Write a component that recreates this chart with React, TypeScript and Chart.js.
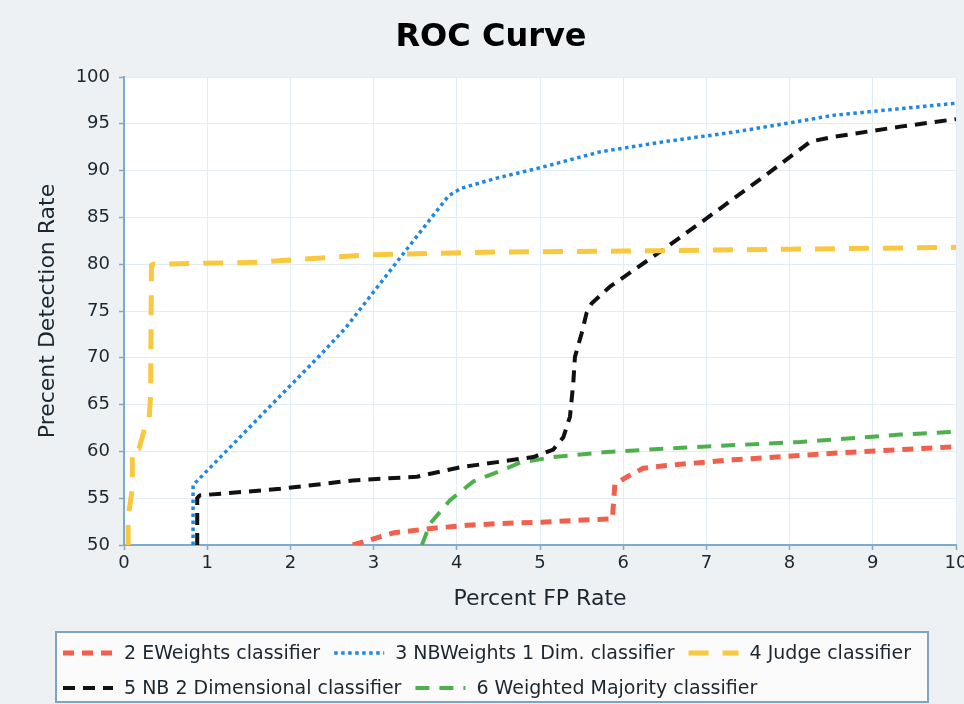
import React, { useEffect, useRef } from 'react';
import { Chart, registerables } from 'chart.js';

Chart.register(...registerables);

const FONT = "'DejaVu Sans', 'Liberation Sans', sans-serif";
const TEXT_COLOR = '#1b2630';
const AXIS_COLOR = '#7eaacb';
const GRID_COLOR = '#e1ecf4';

// X axis: false positive rate (%), Y axis: detection rate (%)
const xTicks = { min: 0, max: 10, step: 1 };
const yTicks = { min: 50, max: 100, step: 5 };

const seriesNames = [
  '2 EWeights classifier',
  '3 NBWeights 1 Dim. classifier',
  '4 Judge classifier',
  '5 NB 2 Dimensional classifier',
  '6 Weighted Majority classifier',
];

const eWeightsFp = [2.75, 3.24, 3.72, 4.12, 4.52, 4.92, 5.6, 5.87, 5.9, 6.05, 6.24, 6.52, 7.32, 8.52, 10];
const eWeightsDet = [50.0, 51.3, 51.8, 52.1, 52.3, 52.4, 52.7, 52.8, 56.5, 57.3, 58.2, 58.5, 59.1, 59.8, 60.5];

const nbWeightsFp = [0.83, 0.83, 2.36, 2.66, 3.32, 3.9, 4.05, 4.48, 5.0, 5.72, 6.5, 7.32, 8.0, 8.52, 9.2, 10];
const nbWeightsDet = [50.0, 56.4, 70.3, 73.15, 80.7, 87.3, 88.1, 89.2, 90.3, 92.0, 93.1, 94.1, 95.1, 95.9, 96.5, 97.2];

const judgeFp = [0.05, 0.05, 0.1, 0.1, 0.18, 0.25, 0.3, 0.32, 0.33, 0.36, 1.6, 2.92, 4.48, 6.0, 8.0, 10];
const judgeDet = [50.0, 53.0, 56.0, 60.2, 60.3, 62.5, 63.2, 66.0, 79.9, 80.0, 80.2, 81.0, 81.3, 81.4, 81.6, 81.8];

const nb2DimFp = [0.88, 0.88, 0.91, 1.88, 2.75, 3.52, 4.04, 4.52, 4.92, 5.16, 5.28, 5.36, 5.4, 5.42, 5.5, 5.56, 5.62, 5.84, 6.52, 7.08, 7.68, 8.25, 8.52, 9.33, 10];
const nb2DimDet = [50.0, 55.0, 55.3, 56.0, 56.9, 57.3, 58.3, 58.9, 59.4, 60.2, 61.5, 63.7, 67.3, 70.1, 72.6, 74.8, 75.8, 77.6, 81.8, 85.4, 89.3, 93.1, 93.6, 94.7, 95.5];

const majorityFp = [3.58, 3.68, 3.92, 4.2, 4.52, 4.76, 5.16, 5.76, 6.7, 8.12, 9.33, 10];
const majorityDet = [50.0, 52.3, 54.8, 56.8, 57.9, 58.8, 59.4, 59.9, 60.4, 61.0, 61.8, 62.1];

const seriesFp = [eWeightsFp, nbWeightsFp, judgeFp, nb2DimFp, majorityFp];
const seriesDet = [eWeightsDet, nbWeightsDet, judgeDet, nb2DimDet, majorityDet];

// Stroke styles per classifier
const seriesStyles = [
  { color: 'rgb(240,96,76)', width: 5, dash: [11, 8] },
  { color: 'rgb(32,136,226)', width: 3.5, dash: [3.5, 3.5] },
  { color: 'rgb(250,200,62)', width: 5, dash: [20, 14] },
  { color: '#111111', width: 4, dash: [12, 8] },
  { color: 'rgb(78,176,76)', width: 4, dash: [14, 10] },
];

const legendRows = [[0, 1, 2], [3, 4]];

const panelBackground = {
  id: 'panelBackground',
  beforeDraw(chart: any) {
    const { ctx, chartArea: a, width, height } = chart;
    ctx.save();
    ctx.fillStyle = '#eef1f3';
    ctx.fillRect(0, 0, width, height);
    ctx.fillStyle = '#ffffff';
    ctx.fillRect(a.left, a.top, a.right - a.left, a.bottom - a.top);
    ctx.restore();
  },
};

const boxedLegend = {
  id: 'boxedLegend',
  afterDraw(chart: any) {
    const { ctx, height } = chart;
    const left = 56;
    const right = 928;
    const top = height - 72;
    const bottom = height - 2;
    ctx.save();
    ctx.fillStyle = '#fbfbfb';
    ctx.fillRect(left, top, right - left, bottom - top);
    ctx.strokeStyle = 'rgb(125,165,195)';
    ctx.lineWidth = 2;
    ctx.strokeRect(left, top, right - left, bottom - top);

    ctx.font = `19px ${FONT}`;
    ctx.textBaseline = 'middle';
    ctx.textAlign = 'left';
    const rowY = [top + 21, top + 56];
    const sampleW = 50;
    legendRows.forEach((row, r) => {
      let x = left + 7;
      const y = rowY[r];
      row.forEach((i) => {
        const st = seriesStyles[i];
        ctx.save();
        ctx.strokeStyle = st.color;
        ctx.lineWidth = st.width;
        ctx.setLineDash(st.dash);
        ctx.beginPath();
        ctx.moveTo(x, y);
        ctx.lineTo(x + sampleW, y);
        ctx.stroke();
        ctx.restore();
        x += sampleW + 11;
        ctx.fillStyle = TEXT_COLOR;
        ctx.fillText(seriesNames[i], x, y + 1);
        x += ctx.measureText(seriesNames[i]).width + 14;
      });
    });
    ctx.restore();
  },
};

export default function App() {
  const canvasRef = useRef<HTMLCanvasElement | null>(null);

  useEffect(() => {
    if (!canvasRef.current) return;
    const datasets = seriesNames.map((name, i) => ({
      label: name,
      data: seriesFp[i].map((x, k) => ({ x, y: seriesDet[i][k] })),
      borderColor: seriesStyles[i].color,
      backgroundColor: seriesStyles[i].color,
      borderWidth: seriesStyles[i].width,
      borderDash: seriesStyles[i].dash,
      borderCapStyle: 'butt' as const,
      borderJoinStyle: 'round' as const,
      pointRadius: 0,
      fill: false,
      tension: 0,
    }));

    const chart = new Chart(canvasRef.current, {
      type: 'line',
      data: { datasets },
      plugins: [panelBackground, boxedLegend],
      options: {
        animation: false,
        responsive: false,
        devicePixelRatio: 1,
        layout: { padding: { left: 26, right: 8, top: 0, bottom: 84 } },
        plugins: {
          legend: { display: false },
          tooltip: { enabled: false },
          title: {
            display: true,
            text: 'ROC Curve',
            color: '#000000',
            font: { family: FONT, size: 32, weight: 'bold' },
            padding: { top: 18, bottom: 20.6 },
          },
        },
        scales: {
          x: {
            type: 'linear',
            min: xTicks.min,
            max: xTicks.max,
            ticks: {
              stepSize: xTicks.step,
              color: TEXT_COLOR,
              font: { family: FONT, size: 18 },
              padding: 3,
              maxRotation: 0,
              autoSkip: false,
            },
            grid: { color: GRID_COLOR, tickLength: 5, tickColor: AXIS_COLOR, tickWidth: 1.5 },
            border: { color: AXIS_COLOR, width: 2 },
            title: {
              display: true,
              text: 'Percent FP Rate',
              color: TEXT_COLOR,
              font: { family: FONT, size: 22 },
              padding: { top: 0, bottom: 8 },
            },
            afterFit(scale: any) {
              scale.height = 75;
              scale.paddingLeft = 0;
              scale.paddingRight = 0;
            },
          },
          y: {
            type: 'linear',
            min: yTicks.min,
            max: yTicks.max,
            ticks: {
              stepSize: yTicks.step,
              color: TEXT_COLOR,
              font: { family: FONT, size: 18 },
              padding: 9,
            },
            grid: { color: GRID_COLOR, tickLength: 5, tickColor: AXIS_COLOR, tickWidth: 1.5 },
            border: { color: AXIS_COLOR, width: 2 },
            title: {
              display: true,
              text: 'Precent Detection Rate',
              color: TEXT_COLOR,
              font: { family: FONT, size: 22 },
              padding: { top: 9, bottom: 0 },
            },
            afterFit(scale: any) {
              scale.width = 98;
            },
          },
        },
      },
    } as any);

    return () => chart.destroy();
  }, []);

  return (
    <div style={{ position: 'fixed', left: 0, top: 0, width: 964, height: 704, overflow: 'hidden' }}>
      <canvas ref={canvasRef} width={964} height={704} style={{ display: 'block' }} />
    </div>
  );
}
